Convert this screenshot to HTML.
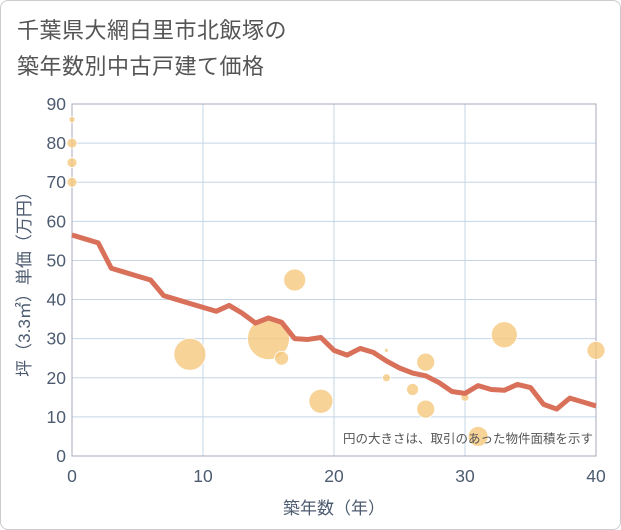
<!DOCTYPE html>
<html><head><meta charset="utf-8"><style>
body{margin:0;background:#fff;}
#wrap{width:619px;height:528px;border:1px solid #ccc;border-radius:8px;position:relative;font-family:"Liberation Sans","Noto Sans CJK JP",sans-serif;overflow:hidden}
.title{position:absolute;left:16px;top:12px;font-size:22px;line-height:36px;color:#555;font-weight:normal;letter-spacing:0.5px}
</style></head><body>
<div id="wrap">
<div class="title">千葉県大網白里市北飯塚の<br>築年数別中古戸建て価格</div>
<svg id="svg" width="621" height="530" style="position:absolute;left:-1px;top:-1px"></svg>
</div>
<script>
const years=[0,1,2,3,4,5,6,7,8,9,10,11,12,13,14,15,16,17,18,19,20,21,22,23,24,25,26,27,28,29,30,31,32,33,34,35,36,37,38,39,40];
const avgPrice=[56.5,55.5,54.5,48,47,46,45,41,40,39,38,37,38.5,36.5,34,35.3,34.2,30,29.8,30.3,27,25.8,27.5,26.5,24.3,22.5,21.2,20.5,18.8,16.5,16,18,17,16.8,18.3,17.5,13.2,12,14.8,13.8,12.8];
const bubbleAge=[0,0,0,0,9,15,16,17,19,24,24,26,27,27,30,31,33,40];
const bubblePrice=[86,80,75,70,26,30,25,45,14,27,20,17,24,12,15,5,31,27];
const bubbleSize=[3,5,5,5,16,21,7,11,12,2,4,6,9,9,4,10,13,9];
const xTicks=[0,10,20,30,40];
const yTicks=[0,10,20,30,40,50,60,70,80,90];
const NS="http://www.w3.org/2000/svg";
const svg=document.getElementById('svg');
const X0=72,X1=596,Y0=456,Y1=104;
const sx=v=>X0+(v-0)/40*(X1-X0);
const sy=v=>Y0-(v/90)*(Y0-Y1);
function mk(t,a){const e=document.createElementNS(NS,t);for(const k in a)e.setAttribute(k,a[k]);svg.appendChild(e);return e;}
for(const t of yTicks){
const l=mk('line',{x1:X0,x2:X1,y1:sy(t),y2:sy(t),stroke:'#c5d5e6','stroke-width':1});


const tx=mk('text',{x:66,y:sy(t)+6,'text-anchor':'end','font-size':17.5,fill:'#4d5b70'});
tx.textContent=t;


}
for(const t of xTicks){
const l=mk('line',{x1:sx(t),x2:sx(t),y1:Y1,y2:Y0,stroke:'#c5d5e6','stroke-width':1});


const tx=mk('text',{x:sx(t),y:482,'text-anchor':'middle','font-size':17.5,fill:'#4d5b70'});
tx.textContent=t;


}
const fr=mk('rect',{x:X0,y:Y1,width:X1-X0,height:Y0-Y1,fill:'none',stroke:'#aab','stroke-width':1});


for(let i=0;i<bubbleAge.length;i++){
const c=mk('circle',{cx:sx(bubbleAge[i]),cy:sy(bubblePrice[i]),r:bubbleSize[i],fill:'#f5c87e','fill-opacity':0.8,stroke:'#fff','stroke-width':0.8});


}
const p=mk('polyline',{points:years.map((y,i)=>sx(y)+','+sy(avgPrice[i])).join(' '),fill:'none',stroke:'#d9705a','stroke-width':5,'stroke-linejoin':'round'});


const note=mk('text',{x:593,y:443,'text-anchor':'end','font-size':12.5,fill:'#555'});
note.textContent='円の大きさは、取引のあった物件面積を示す';


const xt=mk('text',{x:334,y:514,'text-anchor':'middle','font-size':17,fill:'#4d5b70'});
xt.textContent='築年数（年）';


const yt=mk('text',{x:0,y:0,'text-anchor':'middle','font-size':17,fill:'#4d5b70',transform:'translate(30,280) rotate(-90)'});
yt.textContent='坪（3.3㎡）単価（万円）';


</script>
</body></html>
